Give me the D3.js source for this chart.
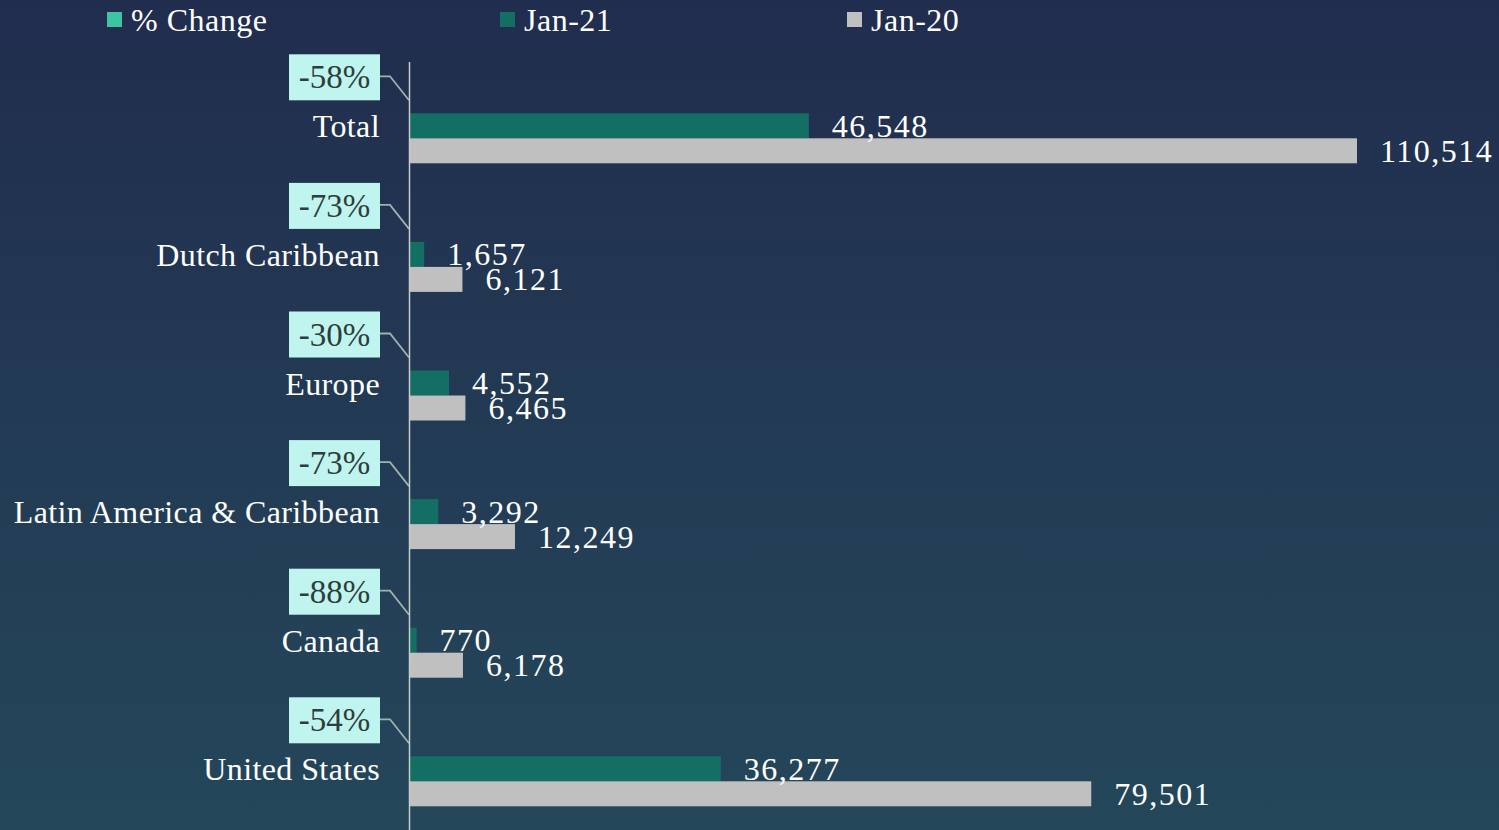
<!DOCTYPE html>
<html>
<head>
<meta charset="utf-8">
<script src="https://cdn.jsdelivr.net/npm/d3@7"></script>
<style>
  html, body { margin: 0; padding: 0; overflow: hidden; }
  svg { display: block; }
</style>
</head>
<body>
<svg id="chart" width="1499" height="830"></svg>
<script>
// data
const categories = ["Total", "Dutch Caribbean", "Europe", "Latin America & Caribbean", "Canada", "United States"]
const jan21 = [46548, 1657, 4552, 3292, 770, 36277]
const jan20 = [110514, 6121, 6465, 12249, 6178, 79501]
const pctChange = [-58, -73, -30, -73, -88, -54]
const seriesNames = ["% Change", "Jan-21", "Jan-20"]

const W = 1499, H = 830
const font = "'Liberation Serif', serif"
const colors = { "% Change": "#3dc4a0", "Jan-21": "#136e63", "Jan-20": "#c0c0c0" }

const svg = d3.select("#chart")

// background gradient
const defs = svg.append("defs")
const grad = defs.append("linearGradient")
    .attr("id", "bg").attr("x1", 0).attr("y1", 0).attr("x2", 0).attr("y2", 1)
grad.append("stop").attr("offset", "0%").attr("stop-color", "#212d4e")
grad.append("stop").attr("offset", "100%").attr("stop-color", "#24475a")
svg.append("rect").attr("width", W).attr("height", H).attr("fill", "url(#bg)")

const x = d3.scaleLinear().domain([0, d3.max(jan20)]).range([410, 1357])
const y = d3.scaleBand().domain(categories).range([74, 845.6])
const sub = d3.scaleBand().domain(["Jan-21", "Jan-20"]).range([-25, 25])

const rows = categories.map((c, i) => ({ name: c, a: jan21[i], b: jan20[i], pct: pctChange[i] }))
const mid = d => y(d.name) + y.bandwidth() / 2

// legend
const legX = [107, 500, 847]
const leg = svg.append("g").selectAll("g").data(seriesNames).enter().append("g")
    .attr("transform", (d, i) => "translate(" + legX[i] + ",0)")
leg.append("rect").attr("x", 0).attr("y", 12).attr("width", 15).attr("height", 15)
    .attr("fill", d => colors[d])
leg.append("text").attr("x", 24).attr("y", 20)
    .attr("dominant-baseline", "central")
    .attr("font-family", font).attr("font-size", 32).attr("fill", "#fff")
    .attr("letter-spacing", 0.5)
    .text(d => d)

// bars
const g = svg.append("g")
g.selectAll(".b21").data(rows).enter().append("rect")
    .attr("x", x(0)).attr("y", d => mid(d) + sub("Jan-21"))
    .attr("width", d => x(d.a) - x(0)).attr("height", sub.bandwidth())
    .attr("fill", colors["Jan-21"])
g.selectAll(".b20").data(rows).enter().append("rect")
    .attr("x", x(0)).attr("y", d => mid(d) + sub("Jan-20"))
    .attr("width", d => x(d.b) - x(0)).attr("height", sub.bandwidth())
    .attr("fill", colors["Jan-20"])

// value labels
const fmt = d3.format(",")
g.selectAll(".l21").data(rows).enter().append("text")
    .attr("x", d => x(d.a) + 23).attr("y", d => mid(d) + sub("Jan-21") + sub.bandwidth() / 2)
    .attr("dominant-baseline", "central")
    .attr("font-family", font).attr("font-size", 32).attr("fill", "#fff")
    .attr("letter-spacing", 1.5)
    .text(d => fmt(d.a))
g.selectAll(".l20").data(rows).enter().append("text")
    .attr("x", d => x(d.b) + 23).attr("y", d => mid(d) + sub("Jan-20") + sub.bandwidth() / 2)
    .attr("dominant-baseline", "central")
    .attr("font-family", font).attr("font-size", 32).attr("fill", "#fff")
    .attr("letter-spacing", 1.5)
    .text(d => fmt(d.b))

// axis line
svg.append("line").attr("x1", 409.5).attr("x2", 409.5).attr("y1", 62).attr("y2", H)
    .attr("stroke", "#c9cccc").attr("stroke-width", 1.5)

// category labels
g.selectAll(".cat").data(rows).enter().append("text")
    .attr("x", 380).attr("y", d => mid(d) - 12)
    .attr("text-anchor", "end").attr("dominant-baseline", "central")
    .attr("font-family", font).attr("font-size", 32).attr("fill", "#fff")
    .attr("letter-spacing", 0.4)
    .text(d => d.name)

// % change callouts
const call = g.selectAll(".call").data(rows).enter().append("g")
call.append("path")
    .attr("d", d => "M380," + (mid(d) - 62) + "H390L409," + (mid(d) - 38))
    .attr("fill", "none").attr("stroke", "#a3b0b0").attr("stroke-width", 1.8)
call.append("rect")
    .attr("x", 289).attr("y", d => mid(d) - 84).attr("width", 91).attr("height", 46)
    .attr("fill", "#c0f5ef")
call.append("text")
    .attr("x", 334.5).attr("y", d => mid(d) - 61)
    .attr("text-anchor", "middle").attr("dominant-baseline", "central")
    .attr("font-family", font).attr("font-size", 33).attr("fill", "#2e3d3d")
    .text(d => d.pct + "%")
</script>
</body>
</html>
